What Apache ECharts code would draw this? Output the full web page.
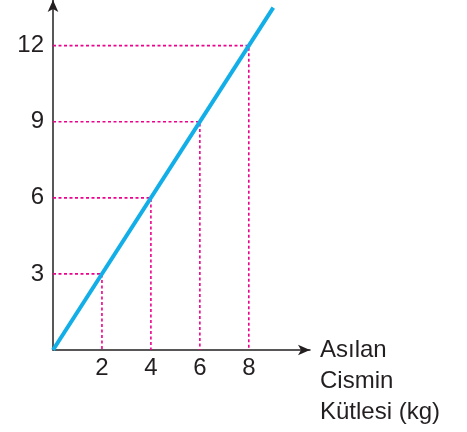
<!DOCTYPE html>
<html>
<head>
<meta charset="utf-8">
<script src="https://cdn.jsdelivr.net/npm/echarts@6/dist/echarts.min.js"></script>
<style>
  html, body { margin: 0; padding: 0; background: #fff; }
  #main { width: 467px; height: 432px; }
</style>
</head>
<body>
<div id="main"></div>
<script>
// data
var massTicks = [2, 4, 6, 8];
var forceTicks = [3, 6, 9, 12];
var linePoints = [[0, 0], [9, 13.5]];
var guidePoints = [[2, 3], [4, 6], [6, 9], [8, 12]];

var myChart = echarts.init(document.getElementById('main'));
var textColor = '#231f20';
var font = 'Liberation Sans';

// pink dotted guides: from y axis to point, then down to x axis
var guideSeries = guidePoints.map(function (p) {
  return {
    type: 'line',
    data: [[0, p[1]], [p[0], p[1]], [p[0], 0]],
    symbol: 'none',
    silent: true,
    lineStyle: { color: '#ec008c', width: 1.6, type: [3, 2.5] },
    z: 2
  };
});

var option = {
  animation: false,
  grid: { left: 53, right: 157, top: 0, bottom: 82 },
  xAxis: {
    type: 'value',
    min: 0,
    max: 10.5,
    splitLine: { show: false },
    axisTick: { show: false },
    axisLine: {
      onZero: false,
      symbol: ['none', 'arrow'],
      symbolSize: [8, 12],
      lineStyle: { color: textColor, width: 1.5 }
    },
    axisLabel: {
      customValues: massTicks,
      color: textColor,
      fontFamily: font,
      fontSize: 24,
      margin: 6
    },
    // two empty lines so the first real line sits at axis height
    name: '\n\nAsılan\nCismin\nKütlesi (kg)',
    nameLocation: 'end',
    nameGap: 10,
    nameTextStyle: {
      color: textColor,
      fontFamily: font,
      fontSize: 24,
      lineHeight: 31,
      align: 'left',
      verticalAlign: 'middle'
    }
  },
  yAxis: {
    type: 'value',
    min: 0,
    max: 13.8,
    splitLine: { show: false },
    axisTick: { show: false },
    axisLine: {
      onZero: false,
      symbol: ['none', 'arrow'],
      symbolSize: [8, 12],
      lineStyle: { color: textColor, width: 1.5 }
    },
    axisLabel: {
      customValues: forceTicks,
      color: textColor,
      fontFamily: font,
      fontSize: 24,
      margin: 9
    }
  },
  series: guideSeries.concat([{
    type: 'line',
    data: linePoints,
    symbol: 'none',
    silent: true,
    lineStyle: { color: '#12aee8', width: 4 },
    z: 3
  }])
};
myChart.setOption(option);
</script>
</body>
</html>
